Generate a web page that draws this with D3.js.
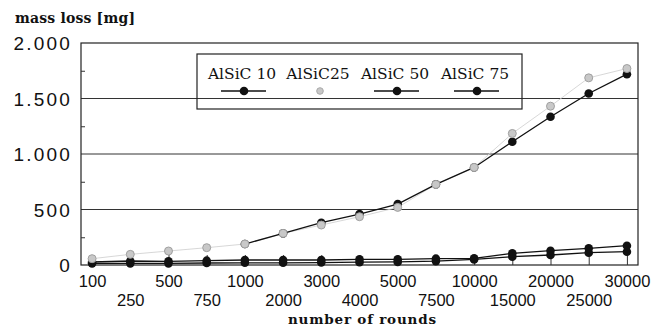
<!DOCTYPE html>
<html><head><meta charset="utf-8">
<script src="https://cdn.jsdelivr.net/npm/d3@7/dist/d3.min.js"></script>
<style>body{margin:0;background:#fff}svg{display:block}</style>
</head><body>
<svg id="c" width="662" height="326"></svg>
<script>
const categories = ["100","250","500","750","1000","2000","3000","4000","5000","7500","10000","15000","20000","25000","30000"];
const seriesNames = ["AlSiC 10","AlSiC25","AlSiC 50","AlSiC 75"];
const alsic10 = [null,null,null,null,189,285,381,459,549,726,879,1110,1335,1545,1719];
const alsic25 = [57,96,126,156,189,285,360,435,519,726,879,1185,1431,1686,1770];
const alsic50 = [27,36,33,39,45,45,45,51,51,57,60,105,129,150,174];
const alsic75 = [15,15,15,18,20,20,22,25,28,35,50,75,90,111,120];
const yMajor = [0,500,1000,1500,2000];
const yMinor = [250,750,1250,1750];

const svg = d3.select("#c");
const L=81,R=638,T=43,B=265;
const x = d3.scalePoint().domain(categories).range([L,R]).padding(0.29);
const y = d3.scaleLinear().domain([0,2000]).range([B,T]);
const loc = d3.formatLocale({decimal:",",thousands:".",grouping:[3],currency:["",""]});
const fmt = loc.format(",");

svg.append("g").selectAll("line").data(yMajor.filter(v=>v>0&&v<2000)).join("line")
  .attr("x1",L).attr("x2",R).attr("y1",d=>y(d)).attr("y2",d=>y(d))
  .attr("stroke","#333").attr("stroke-width",1);
svg.append("rect").attr("x",L).attr("y",T).attr("width",R-L).attr("height",B-T)
  .attr("fill","none").attr("stroke","#222").attr("stroke-width",1.2);

const ya = svg.append("g").attr("transform",`translate(${L},0)`)
  .call(d3.axisLeft(y).tickValues(yMajor).tickSize(0).tickPadding(9).tickFormat(fmt));
ya.select(".domain").remove();
ya.selectAll("text").attr("font-family","'Liberation Sans', Arial, sans-serif")
  .attr("font-size",19).attr("letter-spacing","2.2px").attr("fill","#111").attr("dy","0.36em");
const ym = svg.append("g").attr("transform",`translate(${L},0)`)
  .call(d3.axisLeft(y).tickValues(yMinor).tickSize(-4).tickFormat(""));
ym.select(".domain").remove();
ym.selectAll("line").attr("stroke","#333");

const xa = svg.append("g").attr("transform",`translate(0,${B})`)
  .call(d3.axisBottom(x).tickSize(0).tickFormat(d=>d));
xa.select(".domain").remove();
xa.selectAll("text").attr("font-family","'Liberation Sans', Arial, sans-serif")
  .attr("font-size",16.5).attr("fill","#111").attr("dy",0)
  .attr("y",(d,i)=> i%2 ? 41 : 21.5);
const xt = svg.append("g").attr("transform",`translate(0,${B})`)
  .call(d3.axisBottom(x).tickSize(-10).tickFormat(""));
xt.select(".domain").remove();
xt.selectAll("line").attr("stroke","#333");

svg.append("text").attr("x",15).attr("y",23).text("mass loss [mg]")
  .attr("font-family","'DejaVu Serif', serif").attr("font-weight","bold").attr("font-size",14)
  .attr("textLength",120).attr("fill","#111");
svg.append("text").attr("x",362).attr("y",323.5).attr("text-anchor","middle").text("number of rounds")
  .attr("font-family","'DejaVu Serif', serif").attr("font-weight","bold").attr("font-size",13.5)
  .attr("textLength",148).attr("fill","#111");

const line = d3.line().defined(d=>d!=null).x((d,i)=>x(categories[i])).y(d=>y(d));
const pts = arr => arr.map((v,i)=>({c:categories[i],v})).filter(d=>d.v!=null);

svg.append("path").attr("d",line(alsic25)).attr("fill","none").attr("stroke","#d2d2d2").attr("stroke-width",0.9);
[alsic75,alsic50].forEach(s=>{
  svg.append("path").attr("d",line(s)).attr("fill","none").attr("stroke","#111").attr("stroke-width",1.3);
});
[alsic75,alsic50].forEach(s=>{
  svg.append("g").selectAll("circle").data(pts(s)).join("circle")
    .attr("cx",d=>x(d.c)).attr("cy",d=>y(d.v)).attr("r",4.3).attr("fill","#111");
});
svg.append("path").attr("d",line(alsic10)).attr("fill","none").attr("stroke","#111").attr("stroke-width",1.3);
svg.append("g").selectAll("circle").data(pts(alsic10)).join("circle")
  .attr("cx",d=>x(d.c)).attr("cy",d=>y(d.v)).attr("r",4.3).attr("fill","#111");
svg.append("g").selectAll("circle").data(pts(alsic25)).join("circle")
  .attr("cx",d=>x(d.c)).attr("cy",d=>y(d.v)).attr("r",4).attr("fill","#c8c8c8")
  .attr("stroke","#a0a0a0").attr("stroke-width",1);

const lg = svg.append("g");
lg.append("rect").attr("x",197).attr("y",54).attr("width",325).attr("height",55)
  .attr("fill","none").attr("stroke","#222").attr("stroke-width",1.2);
const lc = [242,318,395,475];
seriesNames.forEach((n,i)=>{
  lg.append("text").attr("x",lc[i]).attr("y",79).attr("text-anchor","middle").text(n)
    .attr("font-family","'DejaVu Serif', serif").attr("font-size",15.5).attr("fill","#111");
  if(i===1){
    lg.append("circle").attr("cx",lc[i]+2).attr("cy",91).attr("r",3.3).attr("fill","#c8c8c8").attr("stroke","#aaa");
  } else {
    lg.append("line").attr("x1",lc[i]-21).attr("x2",lc[i]+24).attr("y1",91).attr("y2",91)
      .attr("stroke","#111").attr("stroke-width",1.3);
    lg.append("circle").attr("cx",lc[i]+2).attr("cy",91).attr("r",4.3).attr("fill","#111");
  }
});
</script>
</body></html>
